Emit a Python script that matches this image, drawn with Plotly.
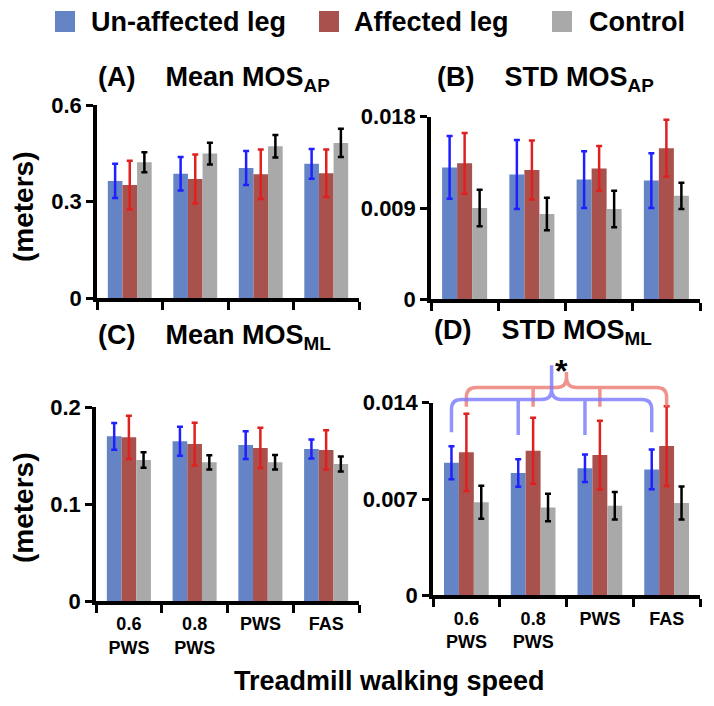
import plotly.graph_objects as go

W, H = 714, 706

speeds = ["0.6<br>PWS", "0.8<br>PWS", "PWS", "FAS"]
groups = ["Un-affected leg", "Affected leg", "Control"]

# (A) Mean MOS AP
mean_ap_unaff = [0.364, 0.386, 0.404, 0.417]
mean_ap_unaff_err = [0.053, 0.052, 0.053, 0.046]
mean_ap_aff = [0.351, 0.370, 0.385, 0.388]
mean_ap_aff_err = [0.076, 0.076, 0.077, 0.074]
mean_ap_ctrl = [0.422, 0.449, 0.472, 0.482]
mean_ap_ctrl_err = [0.031, 0.034, 0.035, 0.044]

# (B) STD MOS AP
std_ap_unaff = [0.0130, 0.0123, 0.0118, 0.0117]
std_ap_unaff_err = [0.0031, 0.0034, 0.0028, 0.0027]
std_ap_aff = [0.0134, 0.01275, 0.0129, 0.0149]
std_ap_aff_err = [0.0030, 0.0029, 0.0022, 0.0028]
std_ap_ctrl = [0.0090, 0.0084, 0.0089, 0.0102]
std_ap_ctrl_err = [0.0018, 0.0016, 0.0018, 0.0013]

# (C) Mean MOS ML
mean_ml_unaff = [0.170, 0.165, 0.161, 0.157]
mean_ml_unaff_err = [0.0138, 0.015, 0.0143, 0.0098]
mean_ml_aff = [0.169, 0.162, 0.158, 0.156]
mean_ml_aff_err = [0.0223, 0.022, 0.0208, 0.0202]
mean_ml_ctrl = [0.1456, 0.1432, 0.1432, 0.1415]
mean_ml_ctrl_err = [0.008, 0.0074, 0.0075, 0.0078]

# (D) STD MOS ML
std_ml_unaff = [0.00964, 0.00889, 0.00923, 0.00915]
std_ml_unaff_err = [0.0012, 0.0010, 0.0010, 0.00145]
std_ml_aff = [0.01039, 0.01051, 0.01019, 0.01085]
std_ml_aff_err = [0.0028, 0.0024, 0.0025, 0.0029]
std_ml_ctrl = [0.00676, 0.00639, 0.00651, 0.00671]
std_ml_ctrl_err = [0.0012, 0.0010, 0.0010, 0.0012]

yticks_a = [0, 0.3, 0.6]
yticks_b = [0, 0.009, 0.018]
yticks_c = [0, 0.1, 0.2]
yticks_d = [0, 0.007, 0.014]

bar_colors = ["#6584c6", "#a9514d", "#a9a9a9"]
err_colors = ["#1f1fff", "#e01f1f", "#000000"]

FONT = "Liberation Sans, Arial, sans-serif"
BARGAP = 0.33

panels = [
    # name, values, errors, yticks, x domain px, y domain px (bottom, top), tick labels
    ("A", [mean_ap_unaff, mean_ap_aff, mean_ap_ctrl],
     [mean_ap_unaff_err, mean_ap_aff_err, mean_ap_ctrl_err], yticks_a, (97, 359), (298, 105), False),
    ("B", [std_ap_unaff, std_ap_aff, std_ap_ctrl],
     [std_ap_unaff_err, std_ap_aff_err, std_ap_ctrl_err], yticks_b, (431, 700), (299.3, 116.7), False),
    ("C", [mean_ml_unaff, mean_ml_aff, mean_ml_ctrl],
     [mean_ml_unaff_err, mean_ml_aff_err, mean_ml_ctrl_err], yticks_c, (96, 359), (601, 407.3), True),
    ("D", [std_ml_unaff, std_ml_aff, std_ml_ctrl],
     [std_ml_unaff_err, std_ml_aff_err, std_ml_ctrl_err], yticks_d, (433, 700), (595.3, 402.7), True),
]

xpos = list(range(len(speeds)))
XR = [-0.5, 3.5]

fig = go.Figure()
layout = {}
for k, (name, vals, errs, yt, xd, yd, labels) in enumerate(panels):
    n = "" if k == 0 else str(k + 1)
    for g in range(3):
        fig.add_trace(go.Bar(
            x=xpos, y=vals[g], name=groups[g], showlegend=False,
            marker=dict(color=bar_colors[g], line=dict(width=0)),
            error_y=dict(type="data", array=errs[g], color=err_colors[g],
                         thickness=2.5, width=3),
            xaxis="x" + n, yaxis="y" + n,
        ))
    layout["xaxis" + n] = dict(
        domain=[xd[0] / W, xd[1] / W], anchor="y" + n, range=XR, automargin=False,
        tickmode="array", tickvals=xpos, ticktext=speeds,
        showticklabels=labels, ticks="", ticklabelstandoff=4,
        minor=dict(tickmode="array", tickvals=[-0.5, 0.5, 1.5, 2.5, 3.5],
                   ticks="outside", ticklen=8, tickwidth=3, tickcolor="black"),
        showline=True, linewidth=3.5, linecolor="black", showgrid=False, zeroline=False,
        tickfont=dict(family=FONT, size=18, color="black", weight="bold"),
    )
    layout["yaxis" + n] = dict(
        domain=[1 - yd[0] / H, 1 - yd[1] / H], anchor="x" + n, range=[0, yt[-1]],
        automargin=False,
        tickmode="array", tickvals=yt, ticktext=[str(v) for v in yt],
        ticks="outside", ticklen=7, tickwidth=3, tickcolor="black",
        showline=True, linewidth=3.5, linecolor="black", showgrid=False, zeroline=False,
        tickfont=dict(family=FONT, size=22, color="black", weight="bold"),
    )

annotations = []
titles = [
    ("(A)&nbsp;&nbsp;&nbsp;&nbsp;Mean MOS<sub>AP</sub>", 96, 79),
    ("(B)&nbsp;&nbsp;&nbsp;&nbsp;STD MOS<sub>AP</sub>", 435, 79.5),
    ("(C)&nbsp;&nbsp;&nbsp;&nbsp;Mean MOS<sub>ML</sub>", 96, 337),
    ("(D)&nbsp;&nbsp;&nbsp;&nbsp;STD MOS<sub>ML</sub>", 432, 332),
]
for txt, px_, py_ in titles:
    annotations.append(dict(text=txt, x=px_ / W, y=1 - py_ / H, xref="paper", yref="paper",
                            xanchor="left", yanchor="middle", showarrow=False,
                            font=dict(family=FONT, size=27, color="black", weight="bold")))

for py_ in (207, 508):
    annotations.append(dict(text="(meters)", x=23 / W, y=1 - py_ / H, xref="paper", yref="paper",
                            textangle=-90, xanchor="center", yanchor="middle", showarrow=False,
                            font=dict(family=FONT, size=28, color="black", weight="bold")))

annotations.append(dict(text="Treadmill walking speed", x=390 / W, y=1 - 681 / H,
                        xref="paper", yref="paper", xanchor="center", yanchor="middle",
                        showarrow=False,
                        font=dict(family=FONT, size=27, color="black", weight="bold")))

# legend drawn by hand to match the square swatches
shapes = []
legend_items = [(55, 89), (319, 352), (552, 587)]
for g, (sx, tx) in enumerate(legend_items):
    shapes.append(dict(type="rect", xref="paper", yref="paper",
                       x0=sx / W, x1=(sx + 20) / W, y0=1 - 32 / H, y1=1 - 11 / H,
                       fillcolor=bar_colors[g], line=dict(width=0)))
    annotations.append(dict(text=groups[g], x=tx / W, y=1 - 22 / H, xref="paper", yref="paper",
                            xanchor="left", yanchor="middle", showarrow=False,
                            font=dict(family=FONT, size=27, color="black", weight="bold")))

# significance braces above panel D (drawn in paper coords so they are not clipped)
dx = layout["xaxis4"]["domain"]
dy = layout["yaxis4"]["domain"]
ytop_d = yticks_d[-1]


def px(x):
    return dx[0] + (x - XR[0]) / (XR[1] - XR[0]) * (dx[1] - dx[0])


def py(y):
    return dy[0] + y / ytop_d * (dy[1] - dy[0])


bw = (1 - BARGAP) / 3
rx, ry = 0.15, 0.0007


def brace(xs, yh, yends, ylegs, ytip, color):
    cx = (xs[0] + xs[-1]) / 2
    pts = [
        ("M", xs[0], yends), ("L", xs[0], yh - ry), ("Q", xs[0], yh), ("", xs[0] + rx, yh),
        ("L", cx - rx, yh), ("Q", cx, yh), ("", cx, yh + ry), ("L", cx, ytip),
        ("M", cx, yh + ry), ("Q", cx, yh), ("", cx + rx, yh),
        ("L", xs[-1] - rx, yh), ("Q", xs[-1], yh), ("", xs[-1], yh - ry), ("L", xs[-1], yends),
    ]
    for x in xs[1:-1]:
        pts += [("M", x, yh), ("L", x, ylegs)]
    p = " ".join(f"{c} {px(x):.5f},{py(y):.5f}" if c else f"{px(x):.5f},{py(y):.5f}"
                 for c, x, y in pts)
    return dict(type="path", path=p, xref="paper", yref="paper",
                line=dict(color=color, width=3.5), layer="above")


shapes.append(brace([i for i in xpos], 0.01511, 0.0137, 0.0137, 0.01624,
                    "rgba(236,120,112,0.8)"))
shapes.append(brace([i - bw for i in xpos], 0.01424, 0.01186, 0.01165, 0.01673,
                    "rgba(120,120,255,0.8)"))
annotations.append(dict(text="*", x=px(1.43), y=py(0.0163), xref="paper", yref="paper",
                        xanchor="center", yanchor="middle", showarrow=False,
                        font=dict(family=FONT, size=32, color="black", weight="bold")))

fig.update_layout(
    **layout,
    barmode="group", bargap=BARGAP, bargroupgap=0,
    width=W, height=H, margin=dict(l=0, r=0, t=0, b=0, pad=0, autoexpand=False),
    paper_bgcolor="white", plot_bgcolor="white",
    font=dict(family=FONT, color="black"),
    annotations=annotations, shapes=shapes, showlegend=False,
)

fig.write_html("out.html", config={"displayModeBar": False},
               post_script="document.body.style.margin='0px';document.body.style.overflow='hidden';")
